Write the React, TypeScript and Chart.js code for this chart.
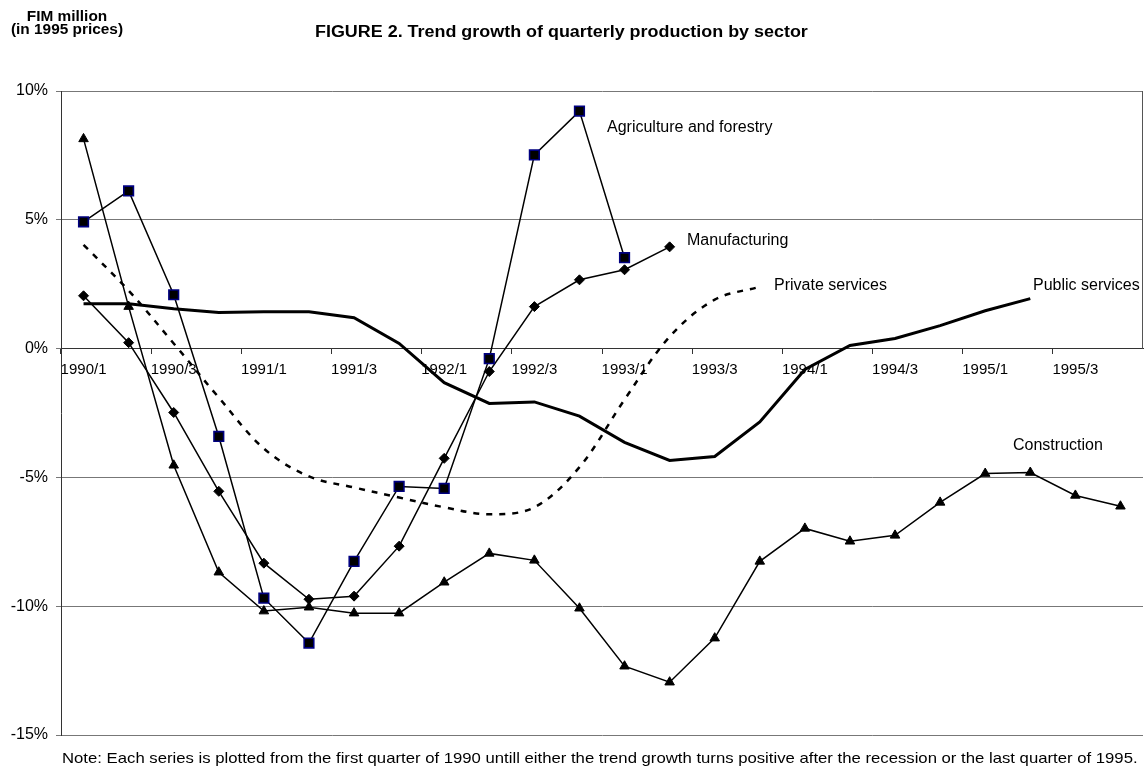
import React, { useEffect, useRef } from 'react';
import { Chart, registerables } from 'chart.js';

Chart.register(...registerables);

const quarters = [
  '1990/1', '1990/2', '1990/3', '1990/4',
  '1991/1', '1991/2', '1991/3', '1991/4',
  '1992/1', '1992/2', '1992/3', '1992/4',
  '1993/1', '1993/2', '1993/3', '1993/4',
  '1994/1', '1994/2', '1994/3', '1994/4',
  '1995/1', '1995/2', '1995/3', '1995/4',
];

const agriculture = [4.92, 6.12, 2.09, -3.41, -9.69, -11.43, -8.26, -5.35, -5.43, -0.39, 7.52, 9.22, 3.53];
const manufacturing = [2.05, 0.23, -2.48, -5.54, -8.33, -9.73, -9.61, -7.67, -4.26, -0.89, 1.63, 2.67, 3.06, 3.95];
const construction = [8.14, 1.63, -4.53, -8.68, -10.19, -10.04, -10.27, -10.27, -9.07, -7.95, -8.22, -10.08, -12.33, -12.95, -11.24, -8.26, -6.98, -7.48, -7.25, -5.97, -4.85, -4.81, -5.7, -6.12];
const publicServices = [1.74, 1.74, 1.55, 1.4, 1.43, 1.43, 1.2, 0.2, -1.32, -2.13, -2.07, -2.62, -3.64, -4.34, -4.19, -2.85, -0.81, 0.12, 0.39, 0.89, 1.47, 1.94];
const privateServices = [4.03, 2.25, 0.2, -1.9, -3.88, -4.96, -5.39, -5.78, -6.16, -6.43, -6.16, -4.6, -1.98, 0.46, 1.9, 2.4];

const seriesNames = ['Agriculture and forestry', 'Manufacturing', 'Construction', 'Public services', 'Private services'];

const yMin = -15;
const yMax = 10;
const yStep = 5;

const FONT = "'Liberation Sans', Arial, Helvetica, sans-serif";

// pixel positions of the in-chart series labels (style, not data)
const labelPlacement = [
  { name: 'Agriculture and forestry', x: 607, y: 128 },
  { name: 'Manufacturing', x: 687, y: 241 },
  { name: 'Private services', x: 774, y: 286 },
  { name: 'Public services', x: 1033, y: 286 },
  { name: 'Construction', x: 1013, y: 446 },
];

const seriesLabelPlugin = {
  id: 'seriesLabels',
  afterDatasetsDraw(chart: any) {
    const { ctx, chartArea, scales } = chart;
    ctx.save();
    // right border of plot area (above zero line)
    ctx.strokeStyle = '#555';
    ctx.lineWidth = 1;
    ctx.beginPath();
    ctx.moveTo(chartArea.right - 0.5, chartArea.top);
    ctx.lineTo(chartArea.right - 0.5, scales.y.getPixelForValue(0));
    ctx.stroke();

    ctx.fillStyle = '#000';
    ctx.font = `16px ${FONT}`;
    ctx.textBaseline = 'middle';
    ctx.textAlign = 'left';
    labelPlacement.forEach((l) => ctx.fillText(l.name, l.x, l.y));
    ctx.restore();
  },
};

export default function App() {
  const canvasRef = useRef<HTMLCanvasElement | null>(null);

  useEffect(() => {
    document.body.style.margin = '0';
    const canvas = canvasRef.current;
    if (!canvas) return;
    const chart = new Chart(canvas, {
      type: 'line',
      data: {
        labels: quarters,
        datasets: [
          {
            label: seriesNames[0],
            data: agriculture,
            borderColor: '#000',
            borderWidth: 1.5,
            pointStyle: 'rect',
            pointRadius: 6.8,
            pointBackgroundColor: '#000',
            pointBorderColor: '#000080',
            pointBorderWidth: 1.6,
            tension: 0,
          },
          {
            label: seriesNames[1],
            data: manufacturing,
            borderColor: '#000',
            borderWidth: 1.5,
            pointStyle: 'rectRot',
            pointRadius: 5,
            pointBackgroundColor: '#000',
            pointBorderColor: '#000',
            pointBorderWidth: 1,
            tension: 0,
          },
          {
            label: seriesNames[2],
            data: construction,
            borderColor: '#000',
            borderWidth: 1.5,
            pointStyle: 'triangle',
            pointRadius: 5.5,
            pointBackgroundColor: '#000',
            pointBorderColor: '#000',
            pointBorderWidth: 1,
            tension: 0,
          },
          {
            label: seriesNames[3],
            data: publicServices,
            borderColor: '#000',
            borderWidth: 3,
            pointRadius: 0,
            tension: 0,
          },
          {
            label: seriesNames[4],
            data: privateServices,
            borderColor: '#000',
            borderWidth: 2.5,
            borderDash: [6, 7],
            pointRadius: 0,
            tension: 0.35,
          },
        ],
      },
      options: {
        animation: false,
        responsive: false,
        devicePixelRatio: 1,
        layout: { autoPadding: false, padding: { left: 0, top: 91, right: 1, bottom: 32 } },
        plugins: {
          legend: { display: false },
          tooltip: { enabled: false },
          title: { display: false },
        },
        scales: {
          x: {
            type: 'category',
            position: { y: 0 } as any,
            offset: true,
            border: { display: true, color: '#333', width: 1 },
            grid: {
              offset: true,
              drawOnChartArea: false,
              drawTicks: true,
              tickLength: 5,
              color: (c: any) => (c.index % 2 === 0 ? '#333' : 'rgba(0,0,0,0)'),
            },
            ticks: {
              autoSkip: false,
              maxRotation: 0,
              minRotation: 0,
              padding: 7,
              color: '#000',
              font: { family: FONT, size: 15 },
              callback: (_v: any, i: number) => (i % 2 === 0 ? quarters[i] : ''),
            },
            afterFit: (scale: any) => {
              scale.paddingLeft = 0;
              scale.paddingRight = 0;
            },
          },
          y: {
            min: yMin,
            max: yMax,
            position: 'left',
            border: { display: true, color: '#333', width: 1 },
            grid: {
              color: '#777',
              lineWidth: 1,
              tickLength: 5,
              drawTicks: true,
            },
            ticks: {
              stepSize: yStep,
              padding: 8,
              color: '#000',
              font: { family: FONT, size: 16 },
              callback: (v: any) => `${v}%`,
            },
            afterFit: (scale: any) => {
              scale.width = 61;
            },
          },
        },
      },
      plugins: [seriesLabelPlugin],
    });
    return () => chart.destroy();
  }, []);

  return (
    <div style={{ position: 'absolute', left: 0, top: 0, width: 1144, height: 767, background: '#fff', fontFamily: FONT, color: '#000', overflow: 'hidden' }}>
      <canvas ref={canvasRef} width={1144} height={767} style={{ position: 'absolute', left: 0, top: 0, width: 1144, height: 767 }} />
      <div style={{ position: 'absolute', left: 0, top: 10, width: 134, textAlign: 'center', fontWeight: 'bold', fontSize: 14, lineHeight: '13px', whiteSpace: 'nowrap', transform: 'scaleX(1.1)', transformOrigin: '67px 0' }}>
        FIM million
        <br />
        (in 1995 prices)
      </div>
      <div style={{ position: 'absolute', left: 315, top: 23, fontWeight: 'bold', fontSize: 16, lineHeight: '18px', whiteSpace: 'nowrap', transform: 'scaleX(1.12)', transformOrigin: '0 0' }}>
        FIGURE 2. Trend growth of quarterly production by sector
      </div>
      <div style={{ position: 'absolute', left: 62, top: 749, fontSize: 15, lineHeight: '17px', whiteSpace: 'nowrap', transform: 'scaleX(1.114)', transformOrigin: '0 0' }}>
        Note: Each series is plotted from the first quarter of 1990 untill either the trend growth turns positive after the recession or the last quarter of 1995.
      </div>
    </div>
  );
}
